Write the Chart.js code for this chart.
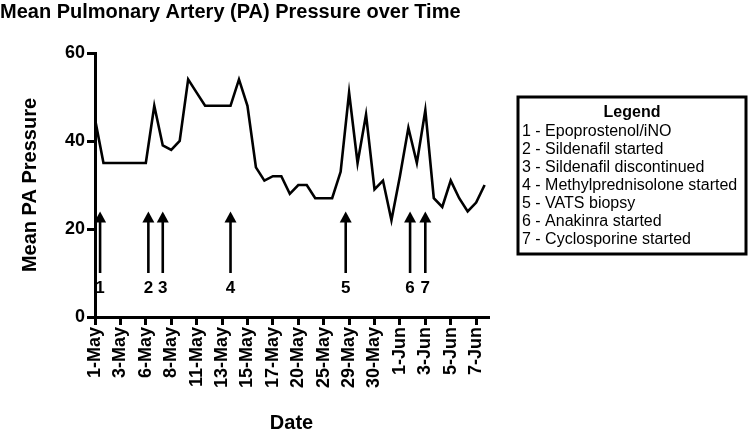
<!DOCTYPE html>
<html>
<head>
<meta charset="utf-8">
<script src="https://cdn.jsdelivr.net/npm/chart.js@4/dist/chart.umd.min.js"></script>
<style>
  body { margin: 0; background: #fff; }
</style>
</head>
<body>
<canvas id="paChart" width="750" height="441"></canvas>
<script>
// tick labels on the date axis (one every 3 measurements)
const dateTicks = ['1-May', '3-May', '6-May', '8-May', '11-May', '13-May', '15-May', '17-May',
  '20-May', '25-May', '29-May', '30-May', '1-Jun', '3-Jun', '5-Jun', '7-Jun'];

// mean PA pressure, one value per measurement
const paPressure = [45, 35, 35, 35, 35, 35, 35, 48, 39, 38, 40, 54, 51, 48, 48, 48, 48, 54, 48, 34,
  31, 32, 32, 28, 30, 30, 27, 27, 27, 33, 51, 35, 46, 29, 31, 22, 32, 43, 35, 47,
  27, 25, 31, 27, 24, 26, 30];

// treatment events (position on the measurement axis)
const eventPos = [0.6, 6.3, 8, 16, 29.6, 37.2, 39];
const eventNums = ['1', '2', '3', '4', '5', '6', '7'];
const legendItems = [
  '1 - Epoprostenol/iNO',
  '2 - Sildenafil started',
  '3 - Sildenafil discontinued',
  '4 - Methylprednisolone started',
  '5 - VATS biopsy',
  '6 - Anakinra started',
  '7 - Cyclosporine started'
];

const FONT = '"Liberation Sans", Arial, Helvetica, sans-serif';

const arrowsPlugin = {
  id: 'arrows',
  afterDatasetsDraw(chart) {
    const ctx = chart.ctx;
    const xs = chart.scales.x;
    const ys = chart.scales.y;
    ctx.save();
    ctx.strokeStyle = '#000';
    ctx.fillStyle = '#000';
    ctx.lineWidth = 2.6;
    eventPos.forEach((p, i) => {
      const x = xs.getPixelForValue(p);
      const tip = ys.getPixelForValue(24);
      const tail = ys.getPixelForValue(10);
      ctx.beginPath();
      ctx.moveTo(x, tail);
      ctx.lineTo(x, tip + 8);
      ctx.stroke();
      ctx.beginPath();
      ctx.moveTo(x, tip);
      ctx.lineTo(x - 6, tip + 11);
      ctx.lineTo(x + 6, tip + 11);
      ctx.closePath();
      ctx.fill();
      ctx.font = 'bold 17px ' + FONT;
      ctx.textAlign = 'center';
      ctx.textBaseline = 'middle';
      ctx.fillText(eventNums[i], x, ys.getPixelForValue(6.6));
    });
    ctx.restore();
  }
};

const legendBoxPlugin = {
  id: 'legendBox',
  afterDraw(chart) {
    const ctx = chart.ctx;
    ctx.save();
    ctx.strokeStyle = '#000';
    ctx.lineWidth = 3;
    ctx.strokeRect(518, 97, 228, 157);
    ctx.fillStyle = '#000';
    ctx.textBaseline = 'middle';
    ctx.textAlign = 'center';
    ctx.font = 'bold 16px ' + FONT;
    ctx.fillText('Legend', 632, 113);
    ctx.textAlign = 'left';
    ctx.font = '16px ' + FONT;
    legendItems.forEach((t, i) => {
      ctx.fillText(t, 522, 132 + i * 18);
    });
    ctx.restore();
  }
};

new Chart(document.getElementById('paChart'), {
  type: 'line',
  data: {
    datasets: [{
      data: paPressure.map((v, i) => ({ x: i, y: v })),
      borderColor: '#000',
      borderWidth: 2.6,
      pointRadius: 0,
      tension: 0,
      fill: false
    }]
  },
  options: {
    responsive: false,
    animation: false,
    devicePixelRatio: 1,
    layout: { padding: { top: 0, right: 262, bottom: 6, left: 0 } },
    plugins: {
      legend: { display: false },
      tooltip: { enabled: false },
      title: {
        display: true,
        text: 'Mean Pulmonary Artery (PA) Pressure over Time',
        align: 'start',
        color: '#000',
        font: { family: FONT, size: 20, weight: 'bold' },
        padding: { top: 0, bottom: 29 }
      }
    },
    scales: {
      x: {
        type: 'linear',
        min: 0,
        max: 46.4,
        afterBuildTicks(scale) {
          scale.ticks = dateTicks.map((l, i) => ({ value: i * 3 }));
        },
        afterFit(scale) { scale.height = 118; },
        border: { display: true, width: 3, color: '#000' },
        grid: { drawOnChartArea: false, drawTicks: true, color: '#000', lineWidth: 3, tickLength: 8 },
        ticks: {
          autoSkip: false,
          minRotation: 90,
          maxRotation: 90,
          color: '#000',
          padding: 2,
          font: { family: FONT, size: 18, weight: 'bold' },
          callback: (v) => dateTicks[Math.round(v / 3)]
        },
        title: {
          display: true,
          text: 'Date',
          color: '#000',
          font: { family: FONT, size: 20, weight: 'bold' },
          padding: { top: 4, bottom: 0 }
        }
      },
      y: {
        min: 0,
        max: 60,
        afterFit(scale) { scale.width = 95; },
        border: { display: true, width: 3, color: '#000' },
        grid: { drawOnChartArea: false, drawTicks: true, color: '#000', lineWidth: 3, tickLength: 8 },
        ticks: {
          stepSize: 20,
          color: '#000',
          padding: 2,
          font: { family: FONT, size: 18, weight: 'bold' }
        },
        title: {
          display: true,
          text: 'Mean PA Pressure',
          color: '#000',
          font: { family: FONT, size: 20, weight: 'bold' },
          padding: { top: 18, bottom: 0 }
        }
      }
    }
  },
  plugins: [arrowsPlugin, legendBoxPlugin]
});
</script>
</body>
</html>
